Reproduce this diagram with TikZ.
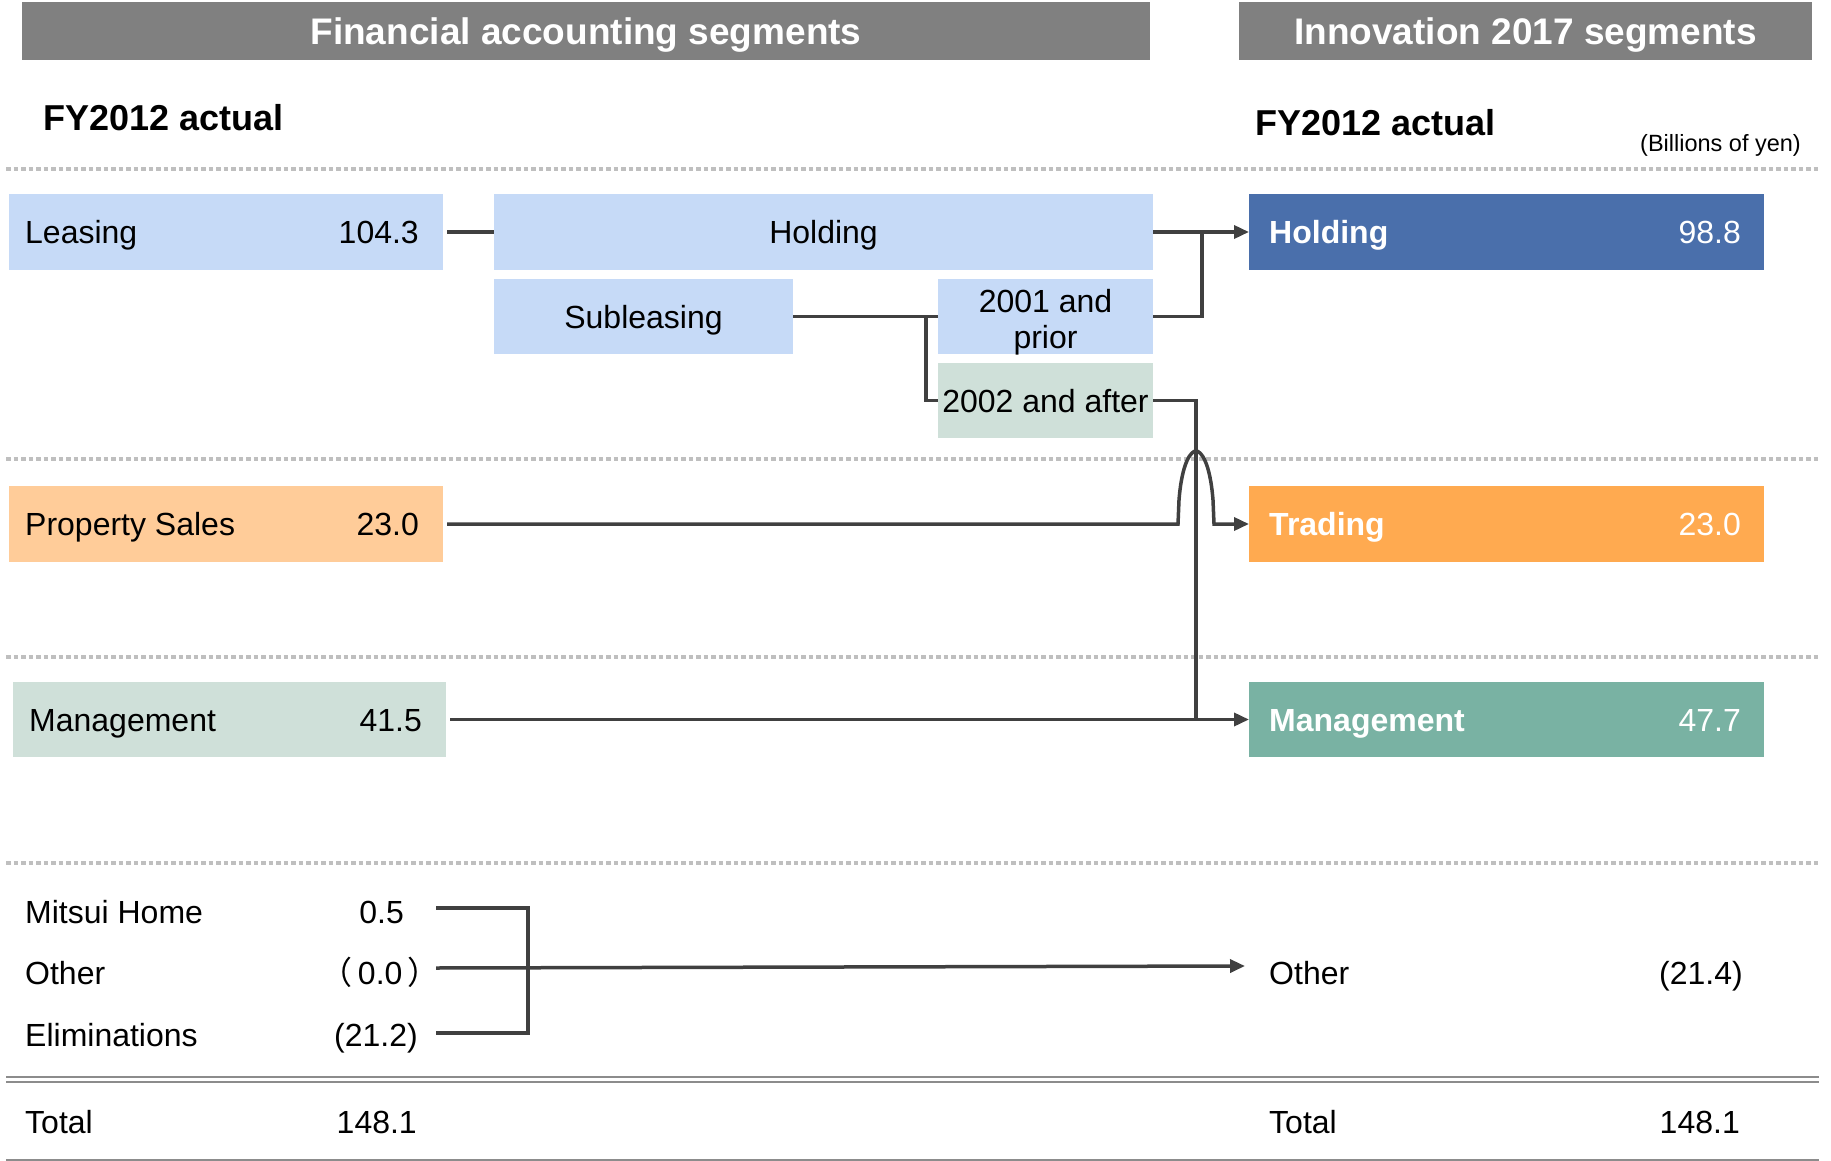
\documentclass[tikz,border=0pt]{standalone}
\usepackage{fontspec}
\setmainfont{Liberation Sans}
\newfontfamily\cjkfont{Noto Sans CJK JP}
\usepackage{xcolor}
\usetikzlibrary{positioning,arrows.meta}
\definecolor{hdrgray}{RGB}{128,128,128}
\definecolor{lblue}{RGB}{198,218,247}
\definecolor{lgreen}{RGB}{207,224,217}
\definecolor{lpeach}{RGB}{255,204,153}
\definecolor{dblue}{RGB}{74,111,171}
\definecolor{dorange}{RGB}{255,170,80}
\definecolor{dteal}{RGB}{121,178,163}
\definecolor{lineclr}{RGB}{64,64,64}
\definecolor{dotclr}{RGB}{191,191,191}
\definecolor{ruleclr}{RGB}{140,140,140}
\newcommand{\fwparen}[1]{{\cjkfont （}#1{\cjkfont ）}}

\begin{document}
\begin{tikzpicture}[x=1pt, y=-1pt,
    hdr/.style={fill=hdrgray, text=white, minimum height=58pt, inner sep=0pt,
      font=\bfseries\fontsize{37}{40}\selectfont, text height=26.5pt, text depth=0pt},
    title/.style={inner sep=0pt, font=\bfseries\fontsize{36}{40}\selectfont, text height=25.8pt, text depth=0pt},
    segbox/.style={minimum height=76pt, inner sep=0pt, outer sep=0pt, anchor=north west,
      font=\fontsize{32}{36}\selectfont, text height=23pt, text depth=0pt},
    txt/.style={inner sep=0pt, font=\fontsize{32}{36}\selectfont, text height=23pt, text depth=0pt},
    btxt/.style={txt, font=\bfseries\fontsize{32}{36}\selectfont, text=white},
    wtxt/.style={txt, text=white},
    conn/.style={draw=lineclr, line width=3.5pt},
    arr/.style={conn, -{Triangle[length=15pt, width=13pt]}},
    sep/.style={draw=dotclr, line width=4.5pt, dash pattern=on 4.5pt off 3pt},
  ]
  \useasboundingbox (0,0) rectangle (1831,1161);

  % headings
  \node[hdr, minimum width=1128pt] (hdrfin) at (586,31) {Financial accounting segments};
  \node[hdr, minimum width=573pt] (hdrinn) at (1525.5,31) {Innovation 2017 segments};
  \node[title, anchor=west] (fyfin) at (43,118) {FY2012 actual};
  \node[title, anchor=west] (fyinn) at (1255,123) {FY2012 actual};
  \node[inner sep=0pt, anchor=east, font=\fontsize{23.5}{26}\selectfont,
    text height=17pt, text depth=0pt] (unit) at (1801,143) {(Billions of yen)};

  % separators
  \foreach \yy in {169,459,657,863}
    \draw[sep] (6,\yy) -- (1819,\yy);
  \draw[draw=ruleclr, line width=2pt] (6,1077) -- (1819,1077);
  \draw[draw=ruleclr, line width=2pt] (6,1082) -- (1819,1082);
  \draw[draw=ruleclr, line width=2pt] (6,1160) -- (1819,1160);

  % left segments
  \node[segbox, fill=lblue, minimum width=434pt] (leasing) at (9,194) {};
  \node[txt, anchor=west] (leasingname) at ([xshift=16pt]leasing.west) {Leasing};
  \node[txt, anchor=east] (leasingval) at ([xshift=-24pt]leasing.east) {104.3};
  \node[segbox, fill=lblue, minimum width=659pt] (holdfin) at (494,194) {Holding};
  \node[segbox, fill=lblue, minimum width=299pt, minimum height=75pt] (subl) at (494,279) {Subleasing};
  \node[segbox, fill=lblue, minimum width=215pt, minimum height=75pt] (prior) at (938,279) {};
  \node[align=center, inner sep=0pt, font=\fontsize{32}{36}\selectfont] (priortxt) at ([yshift=-6pt]prior.center) {2001 and\\prior};
  \node[segbox, fill=lgreen, minimum width=215pt, minimum height=75pt] (after) at (938,363) {2002 and after};

  \node[segbox, fill=lpeach, minimum width=434pt] (propsales) at (9,486) {};
  \node[txt, anchor=west] (propname) at ([xshift=16pt]propsales.west) {Property Sales};
  \node[txt, anchor=east] (propval) at ([xshift=-24pt]propsales.east) {23.0};

  \node[segbox, fill=lgreen, minimum width=433pt, minimum height=75pt] (mgmtfin) at (13,682) {};
  \node[txt, anchor=west] (mgmtfinname) at ([xshift=16pt]mgmtfin.west) {Management};
  \node[txt, anchor=east] (mgmtfinval) at ([xshift=-24pt]mgmtfin.east) {41.5};

  % right segments
  \node[segbox, fill=dblue, minimum width=515pt] (holdinn) at (1249,194) {};
  \node[btxt, anchor=west] (holdinnname) at ([xshift=20pt]holdinn.west) {Holding};
  \node[wtxt, anchor=east] (holdinnval) at ([xshift=-23pt]holdinn.east) {98.8};
  \node[segbox, fill=dorange, minimum width=515pt] (trading) at (1249,486) {};
  \node[btxt, anchor=west] (tradingname) at ([xshift=20pt]trading.west) {Trading};
  \node[wtxt, anchor=east] (tradingval) at ([xshift=-23pt]trading.east) {23.0};
  \node[segbox, fill=dteal, minimum width=515pt, minimum height=75pt] (mgmtinn) at (1249,682) {};
  \node[btxt, anchor=west] (mgmtinnname) at ([xshift=20pt]mgmtinn.west) {Management};
  \node[wtxt, anchor=east] (mgmtinnval) at ([xshift=-23pt]mgmtinn.east) {47.7};

  % other and totals
  \node[txt, anchor=west] (mitsui) at (25,912) {Mitsui Home};
  \node[txt, anchor=east] (mitsuival) at (404,912) {0.5};
  \node[txt, anchor=west] (otherfin) at (25,973) {Other};
  \node[txt, anchor=east] (otherfinval) at (440,973) {\fwparen{\,0.0\,}};
  \node[txt, anchor=west] (elim) at (25,1035) {Eliminations};
  \node[txt, anchor=east] (elimval) at (418,1035) {(21.2)};
  \node[txt, anchor=west] (totalfin) at (25,1122) {Total};
  \node[txt, anchor=east] (totalfinval) at (417,1122) {148.1};
  \node[txt, anchor=west] (otherinn) at (1269,973) {Other};
  \node[txt, anchor=east] (otherinnval) at (1743,973) {(21.4)};
  \node[txt, anchor=west] (totalinn) at (1269,1122) {Total};
  \node[txt, anchor=east] (totalinnval) at (1740,1122) {148.1};

  % junctions
  \coordinate (jhold) at (1202,232);
  \coordinate (jsub) at (926,316);
  \coordinate (jmgmt) at (1196,720);
  \coordinate (mhend) at (436,908);
  \coordinate (otend) at (436,968);
  \coordinate (elend) at (436,1033);
  \coordinate (bbot) at (528,1033);
  \coordinate (ottip) at (1245,966);

  % connectors
  \draw[conn] ([xshift=4pt]leasing.east) -- (holdfin.west);
  \draw[arr] (holdfin.east) -- (holdinn.west);
  \draw[conn] (prior.east) -| (jhold);
  \draw[conn] (subl.east) -- (prior.west);
  \draw[conn] (jsub) |- (after.west);
  \draw[conn] (after.east) -| (jmgmt);
  \draw[arr] ([xshift=4pt]mgmtfin.east) -- (mgmtinn.west);
  \draw[arr] ([xshift=4pt]propsales.east) -- (1178,524) -- (1179,500)
    .. controls (1182,462) and (1191,451) .. (1196,451)
    .. controls (1201,451) and (1210,462) .. (1213,500) -- (1214,524) -- (trading.west);
  \draw[conn] (mhend) -| (bbot) -- (elend);
  \draw[arr] (otend) -- (ottip);
\end{tikzpicture}
\end{document}
